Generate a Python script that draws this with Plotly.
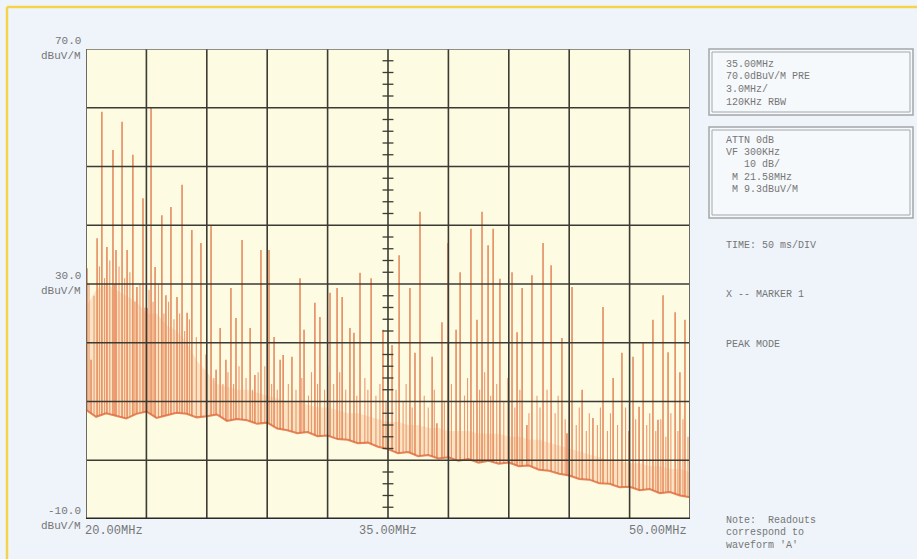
import plotly.graph_objects as go

# ---------------- data ----------------
# main spectrum spikes: frequency (MHz) and peak level (dBuV/m)
spike_mhz = [20.05, 20.25, 20.55, 20.79, 21.04, 21.34, 21.49, 21.79, 22.04, 22.33,
             22.53, 22.83, 23.03, 23.23, 23.43, 23.77, 23.97, 24.22, 24.52, 24.77,
             25.02, 25.26, 25.71, 26.21, 26.46, 26.66, 26.95, 27.20, 27.45, 27.75,
             28.15, 28.39, 28.69, 29.09, 29.34, 29.64, 29.79, 30.23, 30.63, 30.83,
             31.37, 31.62, 32.12, 32.47, 32.72, 33.11, 33.31, 33.61, 34.16, 34.75,
             35.20, 35.55, 36.09, 36.34, 36.59, 37.19, 37.43, 37.68, 37.98, 38.38,
             38.58, 39.12, 39.42, 39.67, 39.97, 40.22, 40.56, 41.16, 41.41, 41.66,
             41.90, 42.15, 42.70, 43.10, 43.64, 43.89, 44.14, 44.64, 45.18, 45.68,
             46.18, 46.62, 47.17, 47.47, 47.67, 48.16, 48.41, 48.66, 48.91, 49.26,
             49.50, 49.75]
spike_dbuv = [32.7, 17.1, 37.8, 59.3, 36.3, 52.8, 35.8, 57.6, 35.8, 52.0,
              29.5, 44.6, 25.9, 60.1, 32.9, 41.7, 28.1, 43.1, 27.8, 46.9,
              25.1, 39.2, 37.0, 40.0, 15.4, 22.5, 17.1, 29.3, 24.2, 37.5,
              22.5, 14.5, 35.8, 35.8, 21.0, 17.1, 17.9, 17.6, 31.0, 22.2,
              26.8, 24.4, 28.5, 29.3, 27.8, 22.5, 21.7, 31.9, 31.0, 22.2,
              19.6, 34.9, 29.3, 18.3, 42.3, 17.6, 6.3, 23.5, 37.0, 22.2,
              32.0, 39.4, 23.9, 42.3, 36.6, 39.4, 30.9, 32.0, 21.8, 29.3,
              6.0, 31.5, 37.0, 33.2, 20.8, 4.6, 29.5, 12.0, 7.2, 26.1,
              14.0, 18.3, 17.6, 9.1, 20.0, 23.9, 6.9, 28.1, 18.4, 25.2,
              15.0, 23.9]

# fainter in-between spikes
minor_mhz = [20.15, 20.40, 20.67, 20.92, 21.18, 21.42, 21.64, 21.92, 22.18, 22.43,
             22.68, 22.93, 23.13, 23.33, 23.60, 23.87, 24.10, 24.37, 24.65, 24.90,
             25.14, 25.48, 25.95, 26.35, 26.80, 27.05, 27.33, 27.60, 27.95, 28.27,
             28.55, 28.88, 29.22, 29.50, 30.05, 30.43, 30.72, 31.05, 31.20, 31.50,
             31.85, 32.00, 32.30, 32.60, 32.90, 33.45, 33.85, 34.00, 34.40, 34.60,
             34.90, 35.40, 35.75, 35.90, 36.20, 36.80, 37.00, 37.30, 37.80, 38.15,
             38.80, 38.95, 39.25, 39.55, 39.80, 40.10, 40.40, 40.75, 40.95, 41.30,
             41.55, 42.00, 42.40, 42.55, 42.90, 43.30, 43.45, 43.80, 44.00, 44.35,
             44.50, 44.85, 45.00, 45.40, 45.55, 45.90, 46.05, 46.40, 46.80, 46.95,
             47.30, 47.85, 48.00, 48.30, 48.55, 48.80, 49.05, 49.40, 49.65, 49.90]
minor_dbuv = [30, 28, 33, 31, 34, 30, 33, 31, 32, 27,
              30, 26, 29, 27, 30, 25, 27, 24, 25, 22,
              24, 21, 18, 14, 13, 15, 13, 16, 14, 12,
              15, 16, 13, 12, 13, 12, 14, 11, 15, 13,
              12, 16, 13, 15, 12, 11, 14, 12, 11, 13,
              10, 12, 10, 13, 9, 11, 9, 12, 10, 13,
              11, 14, 10, 12, 15, 11, 13, 10, 14, 9,
              12, 8, 11, 9, 12, 8, 11, 7, 10, 6,
              9, 5, 8, 6, 9, 5, 8, 6, 9, 5,
              7, 6, 8, 5, 7, 4, 8, 5, 7, 4]

# noise floor (lower edge) and upper edge of the noise haze, every 0.5 MHz
floor_mhz = [20.0, 20.5, 21.0, 21.5, 22.0, 22.5, 23.0, 23.5, 24.0, 24.5,
             25.0, 25.5, 26.0, 26.5, 27.0, 27.5, 28.0, 28.5, 29.0, 29.5,
             30.0, 30.5, 31.0, 31.5, 32.0, 32.5, 33.0, 33.5, 34.0, 34.5,
             35.0, 35.5, 36.0, 36.5, 37.0, 37.5, 38.0, 38.5, 39.0, 39.5,
             40.0, 40.5, 41.0, 41.5, 42.0, 42.5, 43.0, 43.5, 44.0, 44.5,
             45.0, 45.5, 46.0, 46.5, 47.0, 47.5, 48.0, 48.5, 49.0, 49.5, 50.0]
floor_dbuv = [8.6, 7.4, 8.0, 7.6, 7.1, 7.9, 8.3, 7.2, 7.7, 8.1,
              7.9, 7.3, 7.5, 7.8, 6.7, 7.0, 6.8, 6.2, 6.4, 5.4,
              5.1, 4.6, 4.8, 4.1, 4.2, 3.6, 3.5, 2.9, 3.0, 2.3,
              1.9, 1.2, 1.4, 0.7, 0.9, 0.3, 0.5, -0.1, 0.2, -0.4,
              -0.1, -0.6, -0.4, -1.0, -0.9, -1.6, -1.8, -2.3, -2.6, -3.2,
              -3.3, -3.9, -4.0, -4.6, -4.5, -5.1, -4.9, -5.6, -5.4, -6.0, -6.3]
haze_dbuv = [26, 29, 30, 29, 28, 27, 25, 25, 23, 22,
             20, 17, 15, 13, 12.5, 12, 12, 11.5, 11, 10.5,
             10, 10, 9.5, 9, 9, 8.5, 8, 8, 7.5, 7,
             6.5, 6.5, 6, 6, 5.5, 5.5, 5, 5, 5, 4.5,
             4.5, 4.5, 4, 4, 3.5, 3.5, 3, 2.5, 2, 1.5,
             1, 0.5, 0, 0, -0.5, -0.5, -1, -1, -1.5, -1.5, -2]

x_tick_labels = ["20.00MHz", "35.00MHz", "50.00MHz"]
y_tick_values = [70, 30, -10]
y_tick_labels = ["70.0", "30.0", "-10.0"]
y_unit = "dBuV/M"

box1_lines = ["35.00MHz", "70.0dBuV/M PRE", "3.0MHz/", "120KHz RBW"]
box2_lines = ["ATTN 0dB", "VF 300KHz", "   10 dB/", " M 21.58MHz", " M 9.3dBuV/M"]
side_lines = ["TIME: 50 ms/DIV", "X -- MARKER 1", "PEAK MODE"]
note_lines = ["Note:  Readouts", "correspond to", "waveform 'A'"]

# ---------------- figure ----------------
W, H = 917, 559
L, R, T, B = 86, 690, 49, 519
PLOT_BG = "#FDFBE1"
PAPER_BG = "#EEF4FA"
YMIN, YMAX = -10, 70
XMIN, XMAX = 20, 50


def px(x):
    return (x - L) / (R - L)


def py(y):
    return (B - y) / (B - T)


def spike_path(freqs, levels):
    xs, ys = [], []
    for f, p in zip(freqs, levels):
        xs += [f, f, None]
        ys += [YMIN, p, None]
    return xs, ys


fig = go.Figure()

mx, my = spike_path(minor_mhz, minor_dbuv)
fig.add_trace(go.Scatter(x=mx, y=my, mode="lines",
                         line=dict(color="#EF9A6E", width=1.1), hoverinfo="skip"))
sx, sy = spike_path(spike_mhz, spike_dbuv)
fig.add_trace(go.Scatter(x=sx, y=sy, mode="lines",
                         line=dict(color="#DD6634", width=1.2), hoverinfo="skip"))

# mask below the noise floor
fig.add_trace(go.Scatter(x=[XMIN, XMAX], y=[YMIN, YMIN], mode="lines",
                         line=dict(width=0, color=PLOT_BG), hoverinfo="skip"))
fig.add_trace(go.Scatter(x=floor_mhz, y=floor_dbuv, mode="lines", fill="tonexty",
                         fillcolor=PLOT_BG, line=dict(width=0, color=PLOT_BG),
                         hoverinfo="skip"))
# haze of noise above the floor
fig.add_trace(go.Scatter(x=floor_mhz, y=haze_dbuv, mode="lines", fill="tonexty",
                         fillcolor="rgba(240,150,100,0.24)",
                         line=dict(width=0, color="rgba(0,0,0,0)"), hoverinfo="skip"))
fig.add_trace(go.Scatter(x=floor_mhz, y=floor_dbuv, mode="lines",
                         line=dict(color="rgba(222,104,58,0.8)", width=2),
                         hoverinfo="skip"))

shapes = []
grid = dict(color="#3b3b33", width=1.6)
for k in range(1, 10):
    xv = XMIN + 3 * k
    shapes.append(dict(type="line", xref="x", yref="y", x0=xv, x1=xv, y0=YMIN, y1=YMAX,
                       line=grid, layer="above"))
for k in range(1, 8):
    yv = YMIN + 10 * k
    shapes.append(dict(type="line", xref="x", yref="y", x0=XMIN, x1=XMAX, y0=yv, y1=yv,
                       line=grid, layer="above"))
# minor ticks on the centre vertical line
for v in range(YMIN + 2, YMAX, 2):
    if v % 10:
        shapes.append(dict(type="line", xref="x", yref="y", x0=34.73, x1=35.27, y0=v, y1=v,
                           line=dict(color="#3b3b33", width=1.3), layer="above"))
# plot border
shapes.append(dict(type="line", xref="x", yref="y", x0=XMIN, x1=XMIN, y0=YMIN, y1=YMAX,
                   line=dict(color="#6b6b62", width=2), layer="above"))
shapes.append(dict(type="line", xref="x", yref="y", x0=XMAX, x1=XMAX, y0=YMIN, y1=YMAX,
                   line=dict(color="#6b6b62", width=2), layer="above"))
shapes.append(dict(type="line", xref="x", yref="y", x0=XMIN, x1=XMAX, y0=YMAX, y1=YMAX,
                   line=dict(color="#6b6b62", width=1.6), layer="above"))
shapes.append(dict(type="line", xref="x", yref="y", x0=XMIN, x1=XMAX, y0=YMIN, y1=YMIN,
                   line=dict(color="#2a2a25", width=3), layer="above"))

# side boxes (double outline)
for (x0, y0, x1, y1) in [(709, 49, 913, 115), (709, 127, 913, 218)]:
    shapes.append(dict(type="rect", xref="paper", yref="paper", x0=px(x0), x1=px(x1),
                       y0=py(y1), y1=py(y0), line=dict(color="#a3a6a8", width=1.5),
                       fillcolor="#F6F9FC"))
    shapes.append(dict(type="rect", xref="paper", yref="paper", x0=px(x0 + 3), x1=px(x1 - 3),
                       y0=py(y1 - 3), y1=py(y0 + 3), line=dict(color="#a3a6a8", width=1)))

# yellow frame
shapes.append(dict(type="line", xref="paper", yref="paper", x0=px(7), x1=px(7),
                   y0=py(7), y1=py(560), line=dict(color="#F5D34C", width=2.5)))
shapes.append(dict(type="line", xref="paper", yref="paper", x0=px(7), x1=px(918),
                   y0=py(7), y1=py(7), line=dict(color="#F5D34C", width=2.5)))

ann = []
txt = "#767676"
mono = "Liberation Mono"
for v, lab in zip(y_tick_values, y_tick_labels):
    ann.append(dict(x=px(83), y=v, xref="paper", yref="y", text=lab, showarrow=False,
                    xanchor="right", yanchor="middle", yshift=8,
                    font=dict(family=mono, size=11, color=txt)))
    ann.append(dict(x=px(83), y=v, xref="paper", yref="y", text=y_unit, showarrow=False,
                    xanchor="right", yanchor="middle", yshift=-7,
                    font=dict(family=mono, size=11, color=txt)))
ann.append(dict(x=px(83), y=py(531), xref="paper", yref="paper", text=x_tick_labels[0],
                showarrow=False, xanchor="left", yanchor="middle",
                font=dict(family=mono, size=12, color=txt)))
ann.append(dict(x=35, y=py(531), xref="x", yref="paper", text=x_tick_labels[1],
                showarrow=False, xanchor="center", yanchor="middle",
                font=dict(family=mono, size=12, color=txt)))
ann.append(dict(x=px(689), y=py(531), xref="paper", yref="paper", text=x_tick_labels[2],
                showarrow=False, xanchor="right", yanchor="middle",
                font=dict(family=mono, size=12, color=txt)))


def block(lines, x, y_first, step):
    for i, s in enumerate(lines):
        ann.append(dict(x=px(x), y=py(y_first + i * step), xref="paper", yref="paper",
                        text=s.replace(" ", "&nbsp;"), showarrow=False, xanchor="left",
                        yanchor="middle", font=dict(family=mono, size=10, color=txt)))


block(box1_lines, 724, 64, 12.7)
block(box2_lines, 724, 140, 12.4)
block(side_lines, 724, 245, 49.5)
block(note_lines, 724, 520, 12.8)

fig.update_layout(
    width=W, height=H,
    margin=dict(l=L, r=W - R, t=T, b=H - B),
    paper_bgcolor=PAPER_BG, plot_bgcolor=PLOT_BG,
    showlegend=False,
    xaxis=dict(range=[XMIN, XMAX], showgrid=False, zeroline=False, showticklabels=False,
               ticks="", fixedrange=True),
    yaxis=dict(range=[YMIN, YMAX], showgrid=False, zeroline=False, showticklabels=False,
               ticks="", fixedrange=True),
    shapes=shapes, annotations=ann,
)

fig.write_html("out.html",
               config={"displayModeBar": False},
               post_script="document.body.style.margin='0px';"
                           "document.body.style.background='" + PAPER_BG + "';")
